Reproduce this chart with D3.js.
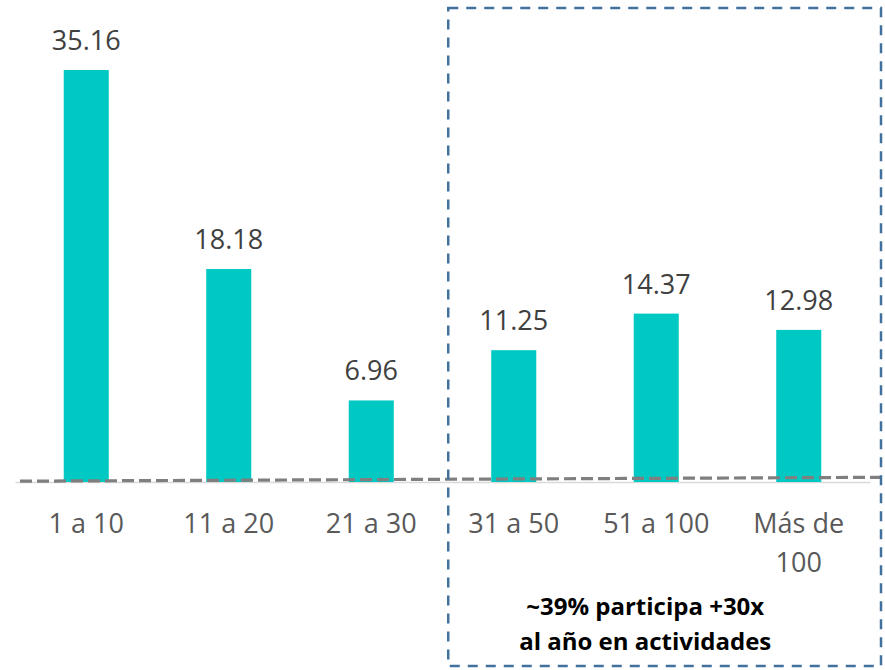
<!DOCTYPE html>
<html>
<head>
<meta charset="utf-8">
<script src="https://cdn.jsdelivr.net/npm/d3@7"></script>
<style>
  html, body { margin: 0; padding: 0; background: #ffffff; }
  svg { display: block; }
</style>
</head>
<body>
<svg id="chart" width="885" height="670"></svg>
<script>
// ---- data ----
const categories = ["1 a 10", "11 a 20", "21 a 30", "31 a 50", "51 a 100", "Más de 100"];
const categoryLines = [["1 a 10"], ["11 a 20"], ["21 a 30"], ["31 a 50"], ["51 a 100"], ["Más de", "100"]];
const values = [35.16, 18.18, 6.96, 11.25, 14.37, 12.98];
const valueLabels = ["35.16", "18.18", "6.96", "11.25", "14.37", "12.98"];
const highlightCategories = ["31 a 50", "51 a 100", "Más de 100"];
const noteLines = ["~39% participa +30x", "al año en actividades"];
// dashed reference line (in value units, at left and right ends)
const refLine = [0.07, 0.40];

// ---- layout ----
const svg = d3.select("#chart");
const baseY = 482;
const topY = 70;
const font = "'Open Sans', Lato, 'Liberation Sans', sans-serif";

const x = d3.scaleBand()
  .domain(categories)
  .range([15, 870])
  .paddingInner(0.684)
  .paddingOuter(0.342);

const y = d3.scaleLinear()
  .domain([0, 35.16])
  .range([baseY, topY]);

// axis line (light gray, solid)
const xAxis = d3.axisBottom(x).tickSize(0).tickFormat("");
const axisG = svg.append("g").attr("transform", `translate(0,${baseY})`).call(xAxis);
axisG.select(".domain").attr("stroke", "#d9d9d9").attr("stroke-width", 1.5);

// bars
svg.append("g").selectAll("rect")
  .data(values)
  .join("rect")
  .attr("x", (d, i) => x(categories[i]))
  .attr("width", x.bandwidth())
  .attr("y", d => y(d))
  .attr("height", d => y(0) - y(d))
  .attr("fill", "#00c9c3");

// dashed reference line (gray)
const refX = d3.scaleLinear().domain([0, 1]).range([20, 882]);
svg.append("line")
  .attr("x1", refX(0)).attr("y1", y(refLine[0]))
  .attr("x2", refX(1)).attr("y2", y(refLine[1]))
  .attr("stroke", "#7f7f7f")
  .attr("stroke-width", 3.2)
  .attr("stroke-dasharray", "12,5");

// value labels
svg.append("g").selectAll("text")
  .data(values)
  .join("text")
  .attr("x", (d, i) => x(categories[i]) + x.bandwidth() / 2)
  .attr("y", d => y(d) - 20)
  .attr("text-anchor", "middle")
  .attr("font-family", font)
  .attr("font-size", 27)
  .attr("fill", "#404040")
  .text((d, i) => valueLabels[i]);

// category labels
const catG = svg.append("g").selectAll("text")
  .data(categoryLines)
  .join("text")
  .attr("x", (d, i) => x(categories[i]) + x.bandwidth() / 2)
  .attr("y", 533)
  .attr("text-anchor", "middle")
  .attr("font-family", font)
  .attr("font-size", 27)
  .attr("fill", "#595959");
catG.selectAll("tspan")
  .data((d, i) => d.map(t => ({ t, i })))
  .join("tspan")
  .attr("x", d => x(categories[d.i]) + x.bandwidth() / 2)
  .attr("dy", (d, j) => j === 0 ? 0 : 39)
  .text(d => d.t);

// highlight box (dashed blue)
const boxLeft = x(highlightCategories[0]) - 43;
const boxRight = 881;
svg.append("rect")
  .attr("x", boxLeft)
  .attr("y", 8)
  .attr("width", boxRight - boxLeft)
  .attr("height", 658)
  .attr("fill", "none")
  .attr("stroke", "#41719c")
  .attr("stroke-width", 2.5)
  .attr("stroke-dasharray", "10,8");

// note text
const noteX = boxLeft + 197;
svg.append("g").selectAll("text")
  .data(noteLines)
  .join("text")
  .attr("x", noteX)
  .attr("y", (d, i) => 615 + i * 35)
  .attr("text-anchor", "middle")
  .attr("font-family", font)
  .attr("font-weight", "bold")
  .attr("font-size", 24)
  .attr("fill", "#000000")
  .text(d => d);
</script>
</body>
</html>
